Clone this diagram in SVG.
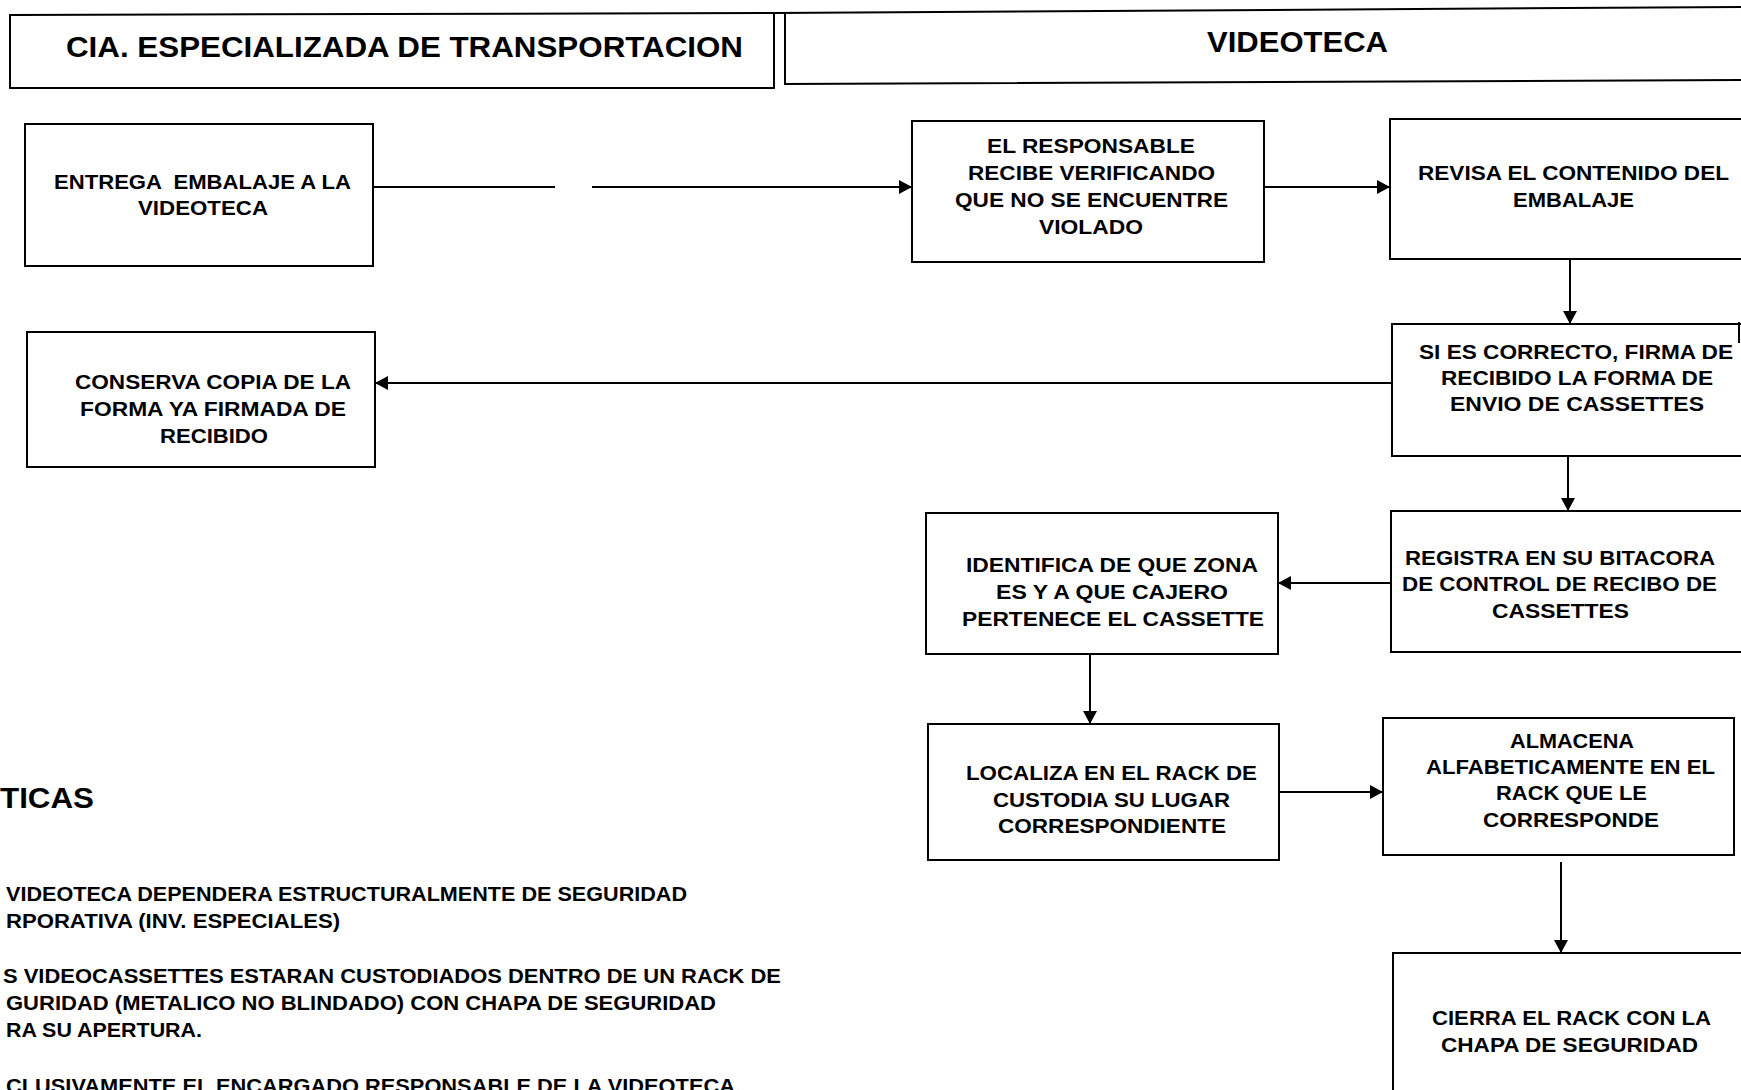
<svg xmlns="http://www.w3.org/2000/svg" width="1741" height="1090" viewBox="0 0 1741 1090">
<style>
.bg{fill:#fff}
.box{fill:none;stroke:#000;stroke-width:2}
.ln{fill:none;stroke:#000;stroke-width:2}
.t{font-family:"Liberation Sans",Arial,Helvetica,sans-serif;font-weight:bold;font-size:20px;fill:#000}
.h{font-family:"Liberation Sans",Arial,Helvetica,sans-serif;font-weight:bold;font-size:29px;fill:#000}
.n{font-family:"Liberation Sans",Arial,Helvetica,sans-serif;font-weight:bold;font-size:20px;fill:#000}
</style>
<defs>
<marker id="ah" viewBox="0 0 13 14" refX="13" refY="7" markerWidth="13" markerHeight="14" markerUnits="userSpaceOnUse" orient="auto">
<path d="M0,0 L13,7 L0,14 Z" fill="#000"/>
</marker>
</defs>
<rect class="bg" x="0" y="0" width="1741" height="1090"/>

<g id="header">
<path class="ln" d="M10,15 L774,13 L774,88 L10,88 Z"/>
<path class="ln" d="M774,13 L1741,7"/>
<path class="ln" d="M785,12 L785,84 L1741,80"/>
<text class="h" x="66" y="57" textLength="677" lengthAdjust="spacingAndGlyphs">CIA. ESPECIALIZADA DE TRANSPORTACION</text>
<text class="h" x="1207" y="52" textLength="181" lengthAdjust="spacingAndGlyphs">VIDEOTECA</text>
</g>

<g id="n1">
<rect class="box" x="25" y="124" width="348" height="142"/>
<text class="t" x="54" y="189" textLength="297" lengthAdjust="spacingAndGlyphs" xml:space="preserve">ENTREGA  EMBALAJE A LA</text>
<text class="t" x="138" y="215" textLength="130" lengthAdjust="spacingAndGlyphs">VIDEOTECA</text>
</g>

<g id="n2">
<rect class="box" x="912" y="121" width="352" height="141"/>
<text class="t" x="987" y="153" textLength="208" lengthAdjust="spacingAndGlyphs">EL RESPONSABLE</text>
<text class="t" x="968" y="180" textLength="247" lengthAdjust="spacingAndGlyphs">RECIBE VERIFICANDO</text>
<text class="t" x="955" y="207" textLength="273" lengthAdjust="spacingAndGlyphs">QUE NO SE ENCUENTRE</text>
<text class="t" x="1039" y="234" textLength="104" lengthAdjust="spacingAndGlyphs">VIOLADO</text>
</g>

<g id="n3">
<path class="box" d="M1745,119 L1390,119 L1390,259 L1745,259"/>
<text class="t" x="1418" y="180" textLength="311" lengthAdjust="spacingAndGlyphs">REVISA EL CONTENIDO DEL</text>
<text class="t" x="1513" y="207" textLength="121" lengthAdjust="spacingAndGlyphs">EMBALAJE</text>
</g>

<g id="n4">
<rect class="box" x="27" y="332" width="348" height="135"/>
<text class="t" x="75" y="389" textLength="276" lengthAdjust="spacingAndGlyphs">CONSERVA COPIA DE LA</text>
<text class="t" x="80" y="416" textLength="266" lengthAdjust="spacingAndGlyphs">FORMA YA FIRMADA DE</text>
<text class="t" x="160" y="443" textLength="108" lengthAdjust="spacingAndGlyphs">RECIBIDO</text>
</g>

<g id="n5">
<path class="box" d="M1745,324 L1392,324 L1392,456 L1745,456"/>
<path class="ln" d="M1739,322 L1739,343"/>
<text class="t" x="1419" y="359" textLength="314" lengthAdjust="spacingAndGlyphs">SI ES CORRECTO, FIRMA DE</text>
<text class="t" x="1441" y="385" textLength="272" lengthAdjust="spacingAndGlyphs">RECIBIDO LA FORMA DE</text>
<text class="t" x="1450" y="411" textLength="254" lengthAdjust="spacingAndGlyphs">ENVIO DE CASSETTES</text>
</g>

<g id="n6">
<path class="box" d="M1745,511 L1391,511 L1391,652 L1745,652"/>
<text class="t" x="1405" y="565" textLength="310" lengthAdjust="spacingAndGlyphs">REGISTRA EN SU BITACORA</text>
<text class="t" x="1402" y="591" textLength="315" lengthAdjust="spacingAndGlyphs">DE CONTROL DE RECIBO DE</text>
<text class="t" x="1492" y="618" textLength="137" lengthAdjust="spacingAndGlyphs">CASSETTES</text>
</g>

<g id="n7">
<rect class="box" x="926" y="513" width="352" height="141"/>
<text class="t" x="966" y="572" textLength="292" lengthAdjust="spacingAndGlyphs">IDENTIFICA DE QUE ZONA</text>
<text class="t" x="996" y="599" textLength="232" lengthAdjust="spacingAndGlyphs">ES Y A QUE CAJERO</text>
<text class="t" x="962" y="626" textLength="302" lengthAdjust="spacingAndGlyphs">PERTENECE EL CASSETTE</text>
</g>

<g id="n8">
<rect class="box" x="928" y="724" width="351" height="136"/>
<text class="t" x="966" y="780" textLength="291" lengthAdjust="spacingAndGlyphs">LOCALIZA EN EL RACK DE</text>
<text class="t" x="993" y="807" textLength="237" lengthAdjust="spacingAndGlyphs">CUSTODIA SU LUGAR</text>
<text class="t" x="998" y="833" textLength="228" lengthAdjust="spacingAndGlyphs">CORRESPONDIENTE</text>
</g>

<g id="n9">
<rect class="box" x="1383" y="718" width="351" height="137"/>
<text class="t" x="1510" y="748" textLength="124" lengthAdjust="spacingAndGlyphs">ALMACENA</text>
<text class="t" x="1426" y="774" textLength="289" lengthAdjust="spacingAndGlyphs">ALFABETICAMENTE EN EL</text>
<text class="t" x="1496" y="800" textLength="151" lengthAdjust="spacingAndGlyphs">RACK QUE LE</text>
<text class="t" x="1483" y="827" textLength="176" lengthAdjust="spacingAndGlyphs">CORRESPONDE</text>
</g>

<g id="n10">
<path class="box" d="M1745,953 L1393,953 L1393,1095"/>
<text class="t" x="1432" y="1025" textLength="279" lengthAdjust="spacingAndGlyphs">CIERRA EL RACK CON LA</text>
<text class="t" x="1441" y="1052" textLength="257" lengthAdjust="spacingAndGlyphs">CHAPA DE SEGURIDAD</text>
</g>

<g id="notes">
<text class="h" x="0" y="808" textLength="94" lengthAdjust="spacingAndGlyphs">TICAS</text>
<text class="n" x="6" y="901" textLength="681" lengthAdjust="spacingAndGlyphs">VIDEOTECA DEPENDERA ESTRUCTURALMENTE DE SEGURIDAD</text>
<text class="n" x="6" y="928" textLength="334" lengthAdjust="spacingAndGlyphs">RPORATIVA (INV. ESPECIALES)</text>
<text class="n" x="3" y="983" textLength="778" lengthAdjust="spacingAndGlyphs">S VIDEOCASSETTES ESTARAN CUSTODIADOS DENTRO DE UN RACK DE</text>
<text class="n" x="6" y="1010" textLength="710" lengthAdjust="spacingAndGlyphs">GURIDAD (METALICO NO BLINDADO) CON CHAPA DE SEGURIDAD</text>
<text class="n" x="6" y="1037" textLength="196" lengthAdjust="spacingAndGlyphs">RA SU APERTURA.</text>
<text class="n" x="6" y="1093" textLength="735" lengthAdjust="spacingAndGlyphs">CLUSIVAMENTE EL ENCARGADO RESPONSABLE DE LA VIDEOTECA.</text>
</g>

<g id="connectors">
<path class="ln" d="M373,187 L555,187"/>
<path class="ln" d="M592,187 L912,187" marker-end="url(#ah)"/>
<path class="ln" d="M1264,187 L1390,187" marker-end="url(#ah)"/>
<path class="ln" d="M1570,259 L1570,324" marker-end="url(#ah)"/>
<path class="ln" d="M1392,383 L375,383" marker-end="url(#ah)"/>
<path class="ln" d="M1568,456 L1568,511" marker-end="url(#ah)"/>
<path class="ln" d="M1391,583 L1278,583" marker-end="url(#ah)"/>
<path class="ln" d="M1090,654 L1090,724" marker-end="url(#ah)"/>
<path class="ln" d="M1279,792 L1383,792" marker-end="url(#ah)"/>
<path class="ln" d="M1561,862 L1561,953" marker-end="url(#ah)"/>
</g>
</svg>
